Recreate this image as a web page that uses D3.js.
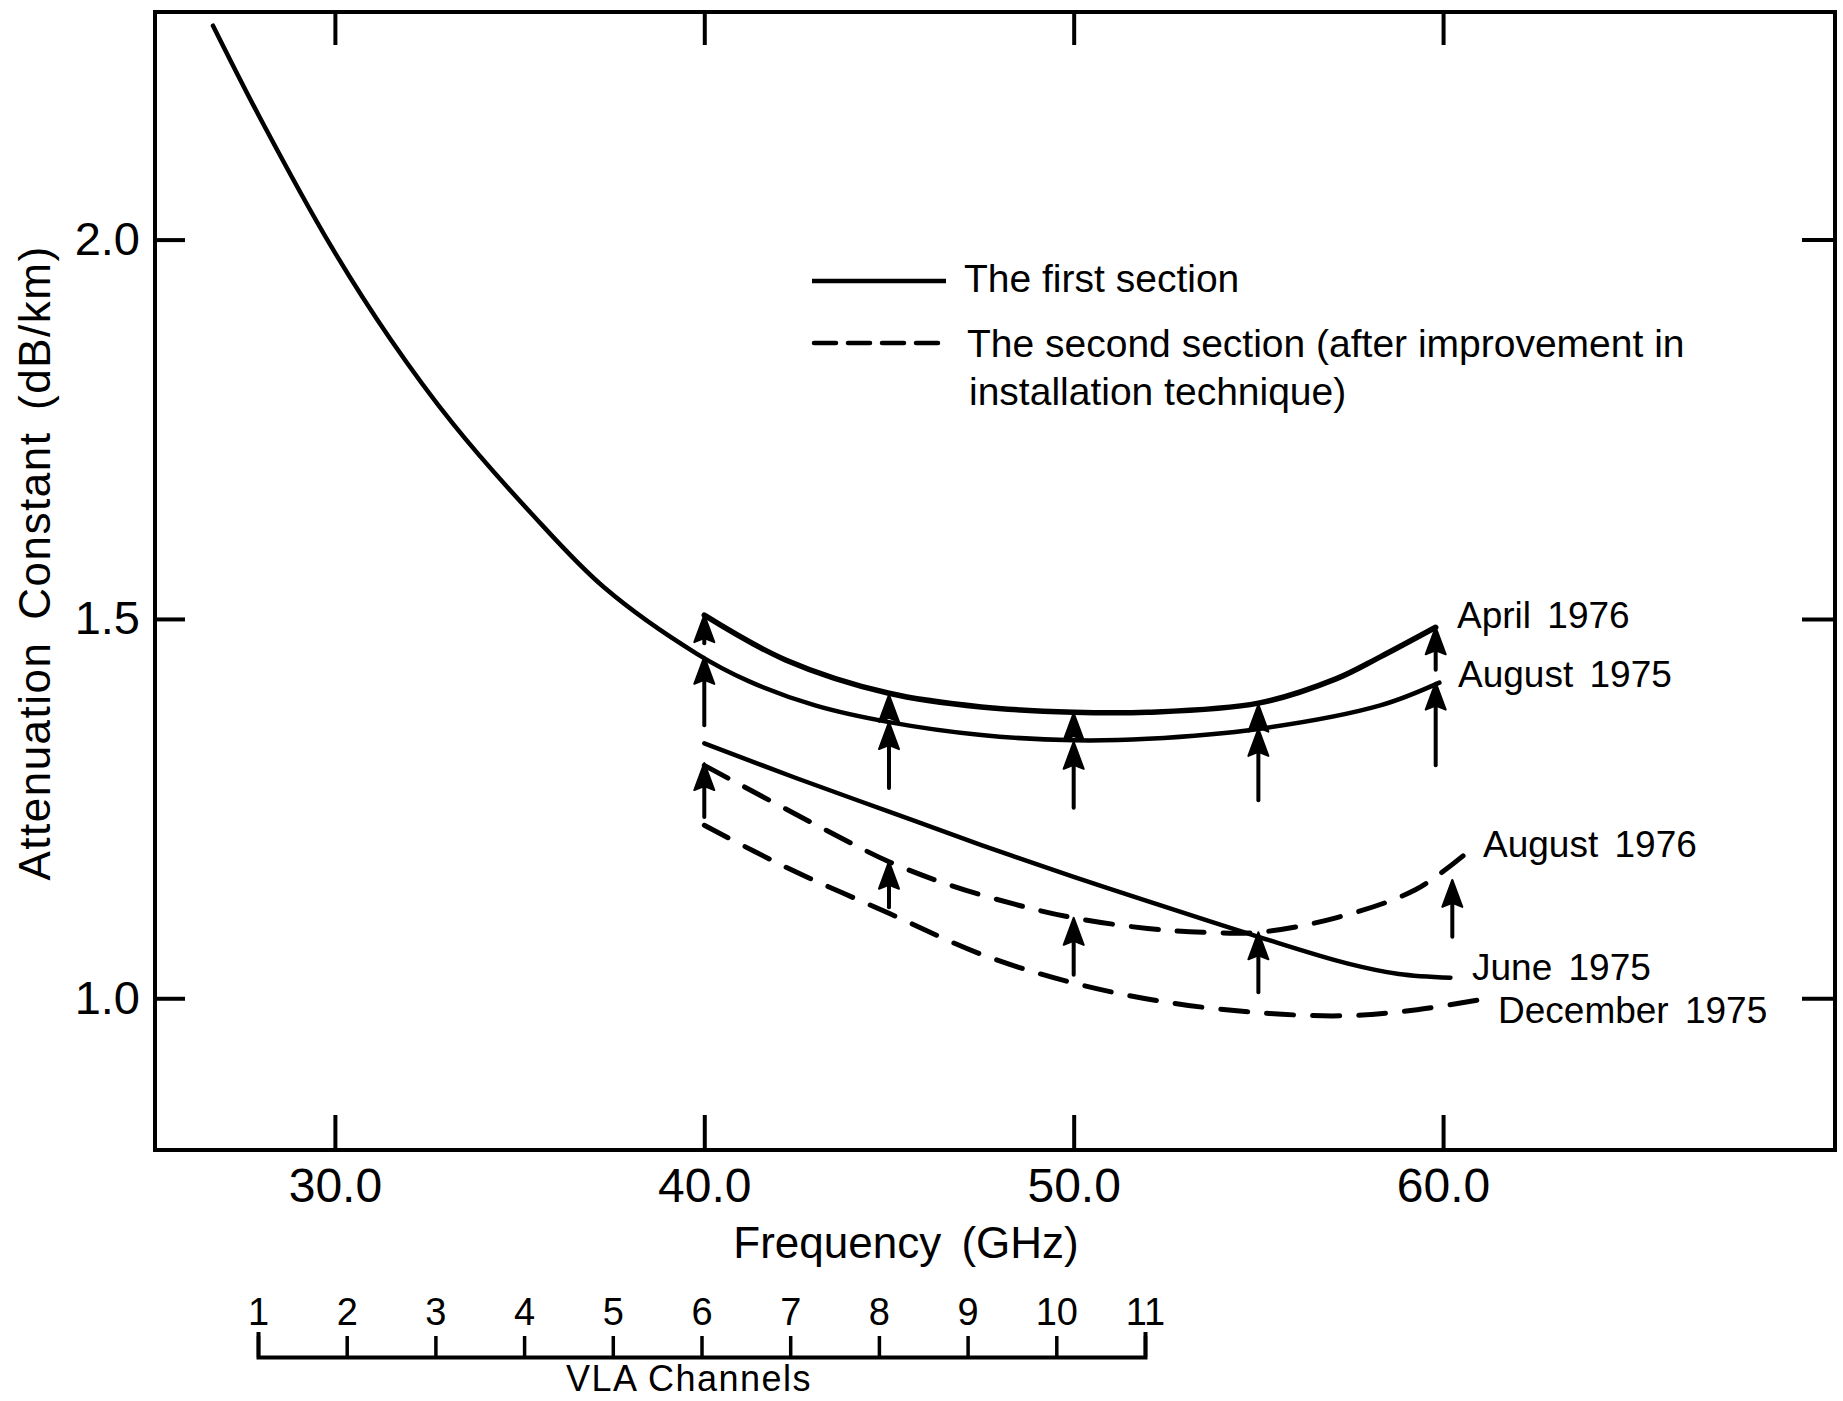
<!DOCTYPE html>
<html><head><meta charset="utf-8">
<script src="https://cdn.jsdelivr.net/npm/d3@7"></script>
<style>
body{margin:0;background:#fff}
svg{display:block;background:#fff}
text{font-family:"Liberation Sans",Arial,sans-serif;fill:#000}
</style>
</head><body>
<svg id="chart" width="1843" height="1401"></svg>
<script>
// ---------------- data ----------------
const freqTicks = [30, 40, 50, 60];
const attenTicks = [1.0, 1.5, 2.0];
const vlaChannels = [1, 2, 3, 4, 5, 6, 7, 8, 9, 10, 11];

// first section (solid)
const aug1975 = [[26.7,2.282],[28.0,2.158],[29.9,1.991],[31.5,1.869],[33.2,1.757],[35.3,1.640],[37.3,1.541],[39.8,1.454],[41.2,1.418],[43.0,1.386],[45,1.364],[47.5,1.347],[50,1.340],[52,1.342],[55,1.355],[58.3,1.386],[59.9,1.416]];
const apr1976 = [[40,1.505],[42.2,1.446],[45,1.402],[47.5,1.384],[50,1.377],[52,1.377],[55,1.389],[57.1,1.421],[58.3,1.450],[59.8,1.489]];
const jun1975 = [[40,1.336],[42.5,1.290],[45,1.246],[47.5,1.202],[50,1.160],[52,1.128],[55,1.081],[57.4,1.046],[58.8,1.032],[60.2,1.027]];
// second section (dashed)
const aug1976 = [[40,1.307],[43.2,1.224],[45,1.180],[46.6,1.150],[48.4,1.124],[50,1.106],[52,1.092],[53.5,1.087],[55,1.087],[57.1,1.106],[59.25,1.143],[60.6,1.190]];
const dec1975 = [[40,1.228],[42.2,1.173],[45,1.112],[47.5,1.058],[50,1.020],[52.5,0.995],[55,0.981],[57.4,0.977],[59.3,0.985],[61.0,0.998]];

// arrows: [frequency, from value, to value]
const arrowsFirst = [[40,1.360,1.450],[40,1.468,1.505],[45,1.277,1.364],[45,1.368,1.400],[50,1.251,1.338],[50,1.350,1.376],[55,1.261,1.355],[55,1.360,1.387],[59.8,1.307,1.416],[59.8,1.433,1.489]];
const arrowsSecond = [[40,1.239,1.310],[45,1.120,1.180],[50,1.031,1.106],[55,1.008,1.087],[60.25,1.081,1.156]];

const seriesNames = ["April 1976","August 1975","August 1976","June 1975","December 1975"];
const legendLabels = ["The first section","The second section (after improvement in","installation technique)"];
const xTitle = "Frequency (GHz)";
const yTitle = "Attenuation Constant (dB/km)";
const vlaTitle = "VLA Channels";

// ---------------- layout ----------------
const svg = d3.select("#chart");
const F = {left:155, right:1835, top:12, bottom:1150};
const x = d3.scaleLinear().domain([25.13, 70.61]).range([F.left, F.right]);
const y = d3.scaleLinear().domain([0.8, 2.3]).range([F.bottom, F.top]);
const v = d3.scaleLinear().domain([1, 11]).range([258, 1145]);
const FONT = '"Liberation Sans",Arial,sans-serif';

// frame
svg.append("rect").attr("x",F.left).attr("y",F.top)
  .attr("width",F.right-F.left).attr("height",F.bottom-F.top)
  .attr("fill","none").attr("stroke","#000").attr("stroke-width",4);

function styleAxis(g, fs){
  g.select(".domain").remove();
  g.selectAll(".tick line").attr("stroke","#000").attr("stroke-width",4);
  g.selectAll(".tick text").attr("font-size",fs).attr("fill","#000").style("font-family",FONT);
}
svg.append("g").attr("transform",`translate(0,${F.bottom})`)
  .call(d3.axisBottom(x).tickValues(freqTicks).tickSizeInner(-35).tickSizeOuter(0).tickPadding(18).tickFormat(d3.format(".1f")))
  .call(g=>styleAxis(g,48));
svg.append("g").attr("transform",`translate(0,${F.top})`)
  .call(d3.axisTop(x).tickValues(freqTicks).tickSizeInner(-33).tickSizeOuter(0).tickFormat(""))
  .call(g=>styleAxis(g,10));
svg.append("g").attr("transform",`translate(${F.left},0)`)
  .call(d3.axisLeft(y).tickValues(attenTicks).tickSizeInner(-30).tickSizeOuter(0).tickPadding(15).tickFormat(d3.format(".1f")))
  .call(g=>styleAxis(g,47));
svg.append("g").attr("transform",`translate(${F.right},0)`)
  .call(d3.axisRight(y).tickValues(attenTicks).tickSizeInner(-33).tickSizeOuter(0).tickFormat(""))
  .call(g=>styleAxis(g,10));

// VLA channel axis
const vg = svg.append("g").attr("transform","translate(0,1357)")
  .call(d3.axisTop(v).tickValues(vlaChannels).tickSizeInner(21).tickSizeOuter(25).tickPadding(11).tickFormat(d3.format("d")));
vg.select(".domain").attr("stroke","#000").attr("stroke-width",4).attr("fill","none");
vg.selectAll(".tick line").attr("stroke","#000").attr("stroke-width",3.5);
vg.selectAll(".tick text").attr("font-size",38).attr("fill","#000").style("font-family",FONT);

// titles
svg.append("text").attr("x",906).attr("y",1258).attr("text-anchor","middle")
  .attr("font-size",44).attr("word-spacing",8).text(xTitle);
svg.append("text").attr("transform","translate(50,563) rotate(-90)").attr("text-anchor","middle")
  .attr("font-size",44).attr("letter-spacing",1.5).attr("word-spacing",8).text(yTitle);
svg.append("text").attr("x",689).attr("y",1391).attr("text-anchor","middle")
  .attr("font-size",36).attr("letter-spacing",1.5).text(vlaTitle);

// curves
const line = d3.line().x(d=>x(d[0])).y(d=>y(d[1])).curve(d3.curveCatmullRom.alpha(0.5));
const curves = [
  {data:aug1975, w:4.5, dash:null},
  {data:apr1976, w:5.5, dash:null},
  {data:jun1975, w:4.5, dash:null},
  {data:aug1976, w:5, dash:"27,19"},
  {data:dec1975, w:5, dash:"27,19"}
];
svg.append("g").selectAll("path").data(curves).join("path")
  .attr("d",d=>line(d.data)).attr("fill","none").attr("stroke","#000")
  .attr("stroke-width",d=>d.w).attr("stroke-linecap","round")
  .attr("stroke-dasharray",d=>d.dash);

// arrows
const headLen = 27, headHalf = 10, notch = 4;
const ag = svg.append("g");
[...arrowsFirst, ...arrowsSecond].forEach(a=>{
  const ax = x(a[0]), y0 = y(a[1]), y1 = y(a[2]);
  const base = y1 + headLen;
  if (y0 > base) {
    ag.append("line").attr("x1",ax).attr("x2",ax).attr("y1",y0).attr("y2",base-notch)
      .attr("stroke","#000").attr("stroke-width",4).attr("stroke-linecap","round");
  }
  ag.append("path")
    .attr("d",`M${ax},${y1} L${ax-headHalf},${base} L${ax},${base-notch} L${ax+headHalf},${base} Z`)
    .attr("fill","#000").attr("stroke","#000").attr("stroke-width",2).attr("stroke-linejoin","round");
});

// series labels
const labelPos = [[1457,628],[1458,687],[1483,857],[1472,980],[1498,1023]];
svg.append("g").selectAll("text").data(seriesNames).join("text")
  .attr("x",(d,i)=>labelPos[i][0]).attr("y",(d,i)=>labelPos[i][1])
  .attr("font-size",37).attr("word-spacing",6).text(d=>d);

// legend
const lg = svg.append("g");
lg.append("line").attr("x1",812).attr("x2",946).attr("y1",281).attr("y2",281)
  .attr("stroke","#000").attr("stroke-width",4.5);
lg.append("line").attr("x1",814).attr("x2",946).attr("y1",343).attr("y2",343)
  .attr("stroke","#000").attr("stroke-width",4.5).attr("stroke-dasharray","22,12").attr("stroke-linecap","round");
const legPos = [[964,292],[967,357],[969,405]];
lg.selectAll("text").data(legendLabels).join("text")
  .attr("x",(d,i)=>legPos[i][0]).attr("y",(d,i)=>legPos[i][1])
  .attr("font-size",39).text(d=>d);
</script>
</body></html>
